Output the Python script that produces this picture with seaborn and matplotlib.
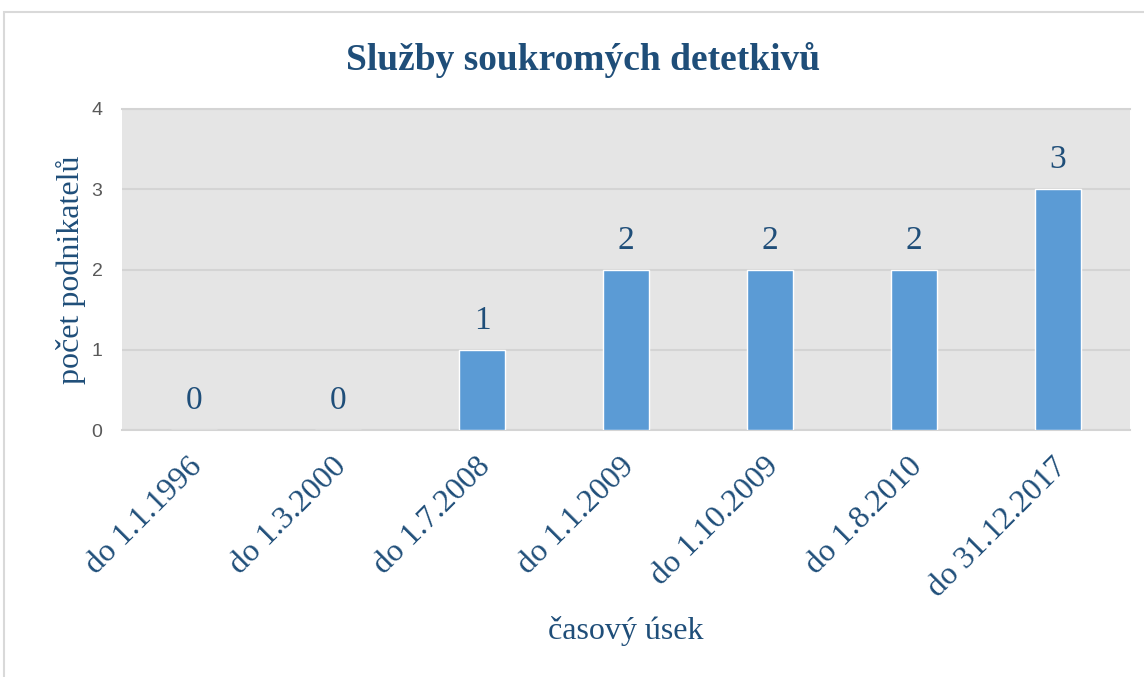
import matplotlib
matplotlib.use("Agg")
import matplotlib.pyplot as plt
import matplotlib.transforms as mtransforms
import seaborn as sns
import pandas as pd
from matplotlib.patches import Rectangle

categories = ["do 1.1.1996", "do 1.3.2000", "do 1.7.2008", "do 1.1.2009",
              "do 1.10.2009", "do 1.8.2010", "do 31.12.2017"]
values = [0, 0, 1, 2, 2, 2, 3]
yticks = [0, 1, 2, 3, 4]

title = "Služby soukromých detetkivů"
xlabel = "časový úsek"
ylabel = "počet podnikatelů"

df = pd.DataFrame({"cat": categories, "val": values})

sns.set_theme(style="white")
plt.rcParams['font.family'] = ['Liberation Serif', 'DejaVu Serif']

dark = "#1F4E79"
fig = plt.figure(figsize=(11.44, 6.77), dpi=100)
ax = fig.add_axes([0.1066, 0.3648, 0.8812, 0.4742])
ax.set_facecolor("#E5E5E5")

sns.barplot(data=df, x="cat", y="val", color="#5B9BD5", width=0.32,
            saturation=1, ax=ax, zorder=3)

ax.set_ylim(0, 4)
ax.set_yticks(yticks)
ax.set_yticklabels([str(t) for t in yticks], family="Liberation Sans",
                   color="#595959", fontsize=14)
ax.yaxis.grid(True, color="#D4D4D4", linewidth=1.5, zorder=0)
ax.set_axisbelow(True)
for s in ["left", "right"]:
    ax.spines[s].set_visible(False)
ax.spines["top"].set_color("#D4D4D4")
ax.spines["bottom"].set_color("#D4D4D4")
ax.spines["top"].set_linewidth(1.5)
ax.spines["bottom"].set_linewidth(1.5)
ax.tick_params(axis="y", length=0, pad=14)
ax.tick_params(axis="x", length=0, pad=16)

ax.set_xticks(range(len(categories)))
ax.set_xticklabels(categories, rotation=45, ha="right", rotation_mode="anchor",
                   fontsize=23, color=dark)
shift = mtransforms.ScaledTranslation(-6 / 100, 0, fig.dpi_scale_trans)
for lbl in ax.get_xticklabels():
    lbl.set_transform(lbl.get_transform() + shift)

for c in ax.containers:
    ax.bar_label(c, labels=[str(v) for v in values], padding=10,
                 fontsize=24, color=dark)

ax.set_xlabel(xlabel, fontsize=23, color=dark, labelpad=10)
ax.set_ylabel(ylabel, fontsize=23, color=dark, labelpad=4)
ax.set_title(title, fontsize=27, fontweight="bold", color=dark, pad=28,
             x=0.457)

fig.patches.append(Rectangle((4 / 1144, -0.01), 1.2, 1 - 12 / 677 + 0.01,
                             transform=fig.transFigure, fill=False,
                             edgecolor="#D9D9D9", linewidth=1.5, zorder=-1))

fig.savefig("out.png", dpi=100)
